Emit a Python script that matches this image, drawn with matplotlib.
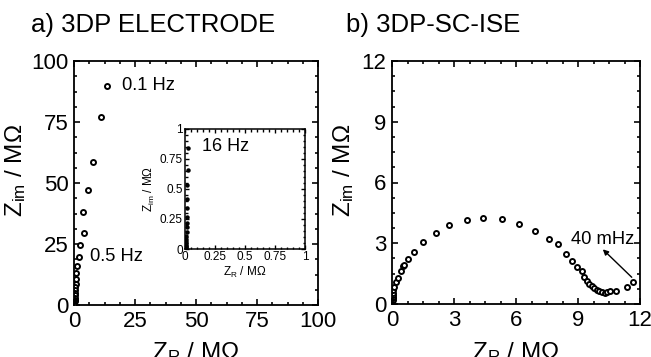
import matplotlib
matplotlib.use("Agg")
import matplotlib.pyplot as plt
from matplotlib.ticker import MultipleLocator

plt.rcParams['font.family'] = ['Liberation Sans', 'DejaVu Sans']
plt.rcParams['mathtext.default'] = 'regular'

# ---- data (MOhm) ----
a_zr = [13.7, 11.1, 7.6, 5.9, 3.6, 3.9, 2.5, 2.1, 1.2, 1.0, 0.8, 0.7, 0.6, 0.5,
        0.45, 0.4, 0.35, 0.3, 0.25, 0.2, 0.15, 0.1, 0.05]
a_zim = [89.9, 77.0, 58.5, 47.1, 38.2, 29.6, 24.6, 19.8, 16.0, 13.0, 10.5, 8.8, 7.3,
         6.0, 4.9, 3.9, 3.0, 2.2, 1.6, 1.1, 0.7, 0.4, 0.15]

inset_zr = [0.028, 0.022, 0.02, 0.018, 0.017, 0.016, 0.015, 0.014, 0.013, 0.012,
            0.011, 0.01, 0.009, 0.008, 0.007, 0.006, 0.005]
inset_zim = [0.84, 0.66, 0.53, 0.42, 0.34, 0.27, 0.22, 0.18, 0.14, 0.11, 0.085,
             0.065, 0.05, 0.035, 0.025, 0.015, 0.008]

b_zr = [0.01, 0.015, 0.02, 0.025, 0.03, 0.035, 0.04, 0.05, 0.06, 0.11, 0.19, 0.31,
        0.44, 0.55, 0.6, 0.79, 1.08, 1.52, 2.11, 2.76, 3.61, 4.42, 5.34, 6.16, 6.92,
        7.61, 8.02, 8.4, 8.69, 8.94, 9.18, 9.29, 9.42, 9.55, 9.66, 9.77, 9.9, 10.03,
        10.14, 10.3, 10.42, 10.55, 10.84, 11.39, 11.64]
b_zim = [0.02, 0.07, 0.13, 0.2, 0.28, 0.37, 0.46, 0.56, 0.69, 0.85, 1.07, 1.3,
         1.63, 1.86, 1.93, 2.2, 2.57, 3.06, 3.49, 3.92, 4.13, 4.23, 4.18, 3.94, 3.6,
         3.21, 2.95, 2.47, 2.12, 1.84, 1.65, 1.32, 1.12, 0.99, 0.89, 0.79, 0.69, 0.64,
         0.59, 0.56, 0.58, 0.63, 0.66, 0.85, 1.1]

a_ticks = [0, 25, 50, 75, 100]
b_ticks = [0, 3, 6, 9, 12]
inset_ticks = [0, 0.25, 0.5, 0.75, 1]
inset_ticklabels = ['0', '0.25', '0.5', '0.75', '1']

fig = plt.figure(figsize=(6.51, 3.57), dpi=100)

def style(ax, ticks, minor, fs, lw=1.3, maj=4, mnr=2.5, labels=None, pad=4):
    ax.set_xticks(ticks)
    ax.set_yticks(ticks)
    if labels is not None:
        ax.set_xticklabels(labels)
        ax.set_yticklabels(labels)
    ax.xaxis.set_minor_locator(MultipleLocator(minor))
    ax.yaxis.set_minor_locator(MultipleLocator(minor))
    ax.tick_params(which='both', direction='in', top=True, right=True,
                   width=lw * 0.9, labelsize=fs)
    ax.tick_params(which='major', length=maj, pad=pad)
    ax.tick_params(which='minor', length=mnr)
    for s in ax.spines.values():
        s.set_linewidth(lw)

# ---- panel a ----
axa = fig.add_axes([74 / 651, 1 - 305 / 357, 244 / 651, 244 / 357])
axa.plot(a_zr, a_zim, 'o', ms=3.6, mfc='white', mec='black', mew=1.4, ls='none')
axa.set_xlim(0, 100)
axa.set_ylim(0, 100)
style(axa, a_ticks, 6.25, 16)
axa.set_xlabel(r'Z$_{R}$ / MΩ', fontsize=17.5)
axa.set_ylabel(r'Z$_{im}$ / MΩ', fontsize=17.5)
axa.xaxis.set_label_coords(0.5, -0.145)
axa.yaxis.set_label_coords(-0.19, 0.55)
axa.text(19.5, 90, '0.1 Hz', fontsize=13.2, va='center', ha='left')
axa.text(6.6, 19.7, '0.5 Hz', fontsize=13.2, va='center', ha='left')
fig.text(31 / 651, 1 - 25 / 357, 'a) 3DP ELECTRODE', fontsize=18.5, va='center', ha='left')

# ---- inset ----
axi = fig.add_axes([185 / 651, 1 - 249 / 357, 120 / 651, 120 / 357])
axi.plot(inset_zr, inset_zim, 'o', ms=2.2, mfc='black', mec='black', ls='none')
axi.set_xlim(0, 1)
axi.set_ylim(0, 1)
style(axi, inset_ticks, 0.05, 8.5, lw=1.1, maj=3, mnr=1.8, labels=inset_ticklabels, pad=1.5)
axi.set_xlabel(r'Z$_{R}$ / MΩ', fontsize=8.5, labelpad=1)
axi.set_ylabel(r'Z$_{im}$ / MΩ', fontsize=8.5, labelpad=2)
axi.text(0.14, 0.85, '16 Hz', fontsize=13, va='center', ha='left')

# ---- panel b ----
axb = fig.add_axes([392 / 651, 1 - 304 / 357, 248 / 651, 243 / 357])
axb.plot(b_zr, b_zim, 'o', ms=3.6, mfc='white', mec='black', mew=1.4, ls='none')
axb.set_xlim(0, 12)
axb.set_ylim(0, 12)
style(axb, b_ticks, 0.75, 16)
axb.set_xlabel(r'Z$_{R}$ / MΩ', fontsize=17.5)
axb.set_ylabel(r'Z$_{im}$ / MΩ', fontsize=17.5)
axb.xaxis.set_label_coords(0.5, -0.15)
axb.yaxis.set_label_coords(-0.145, 0.55)
axb.annotate('', xy=(10.2, 2.7), xytext=(11.6, 1.32),
             arrowprops=dict(arrowstyle='-|>', color='black', lw=1.0,
                             mutation_scale=8, shrinkA=0, shrinkB=0))
axb.text(11.7, 3.2, '40 mHz', fontsize=13.2, va='center', ha='right')
fig.text(346 / 651, 1 - 25 / 357, 'b) 3DP-SC-ISE', fontsize=18.5, va='center', ha='left')

fig.savefig('out.png', dpi=100)
